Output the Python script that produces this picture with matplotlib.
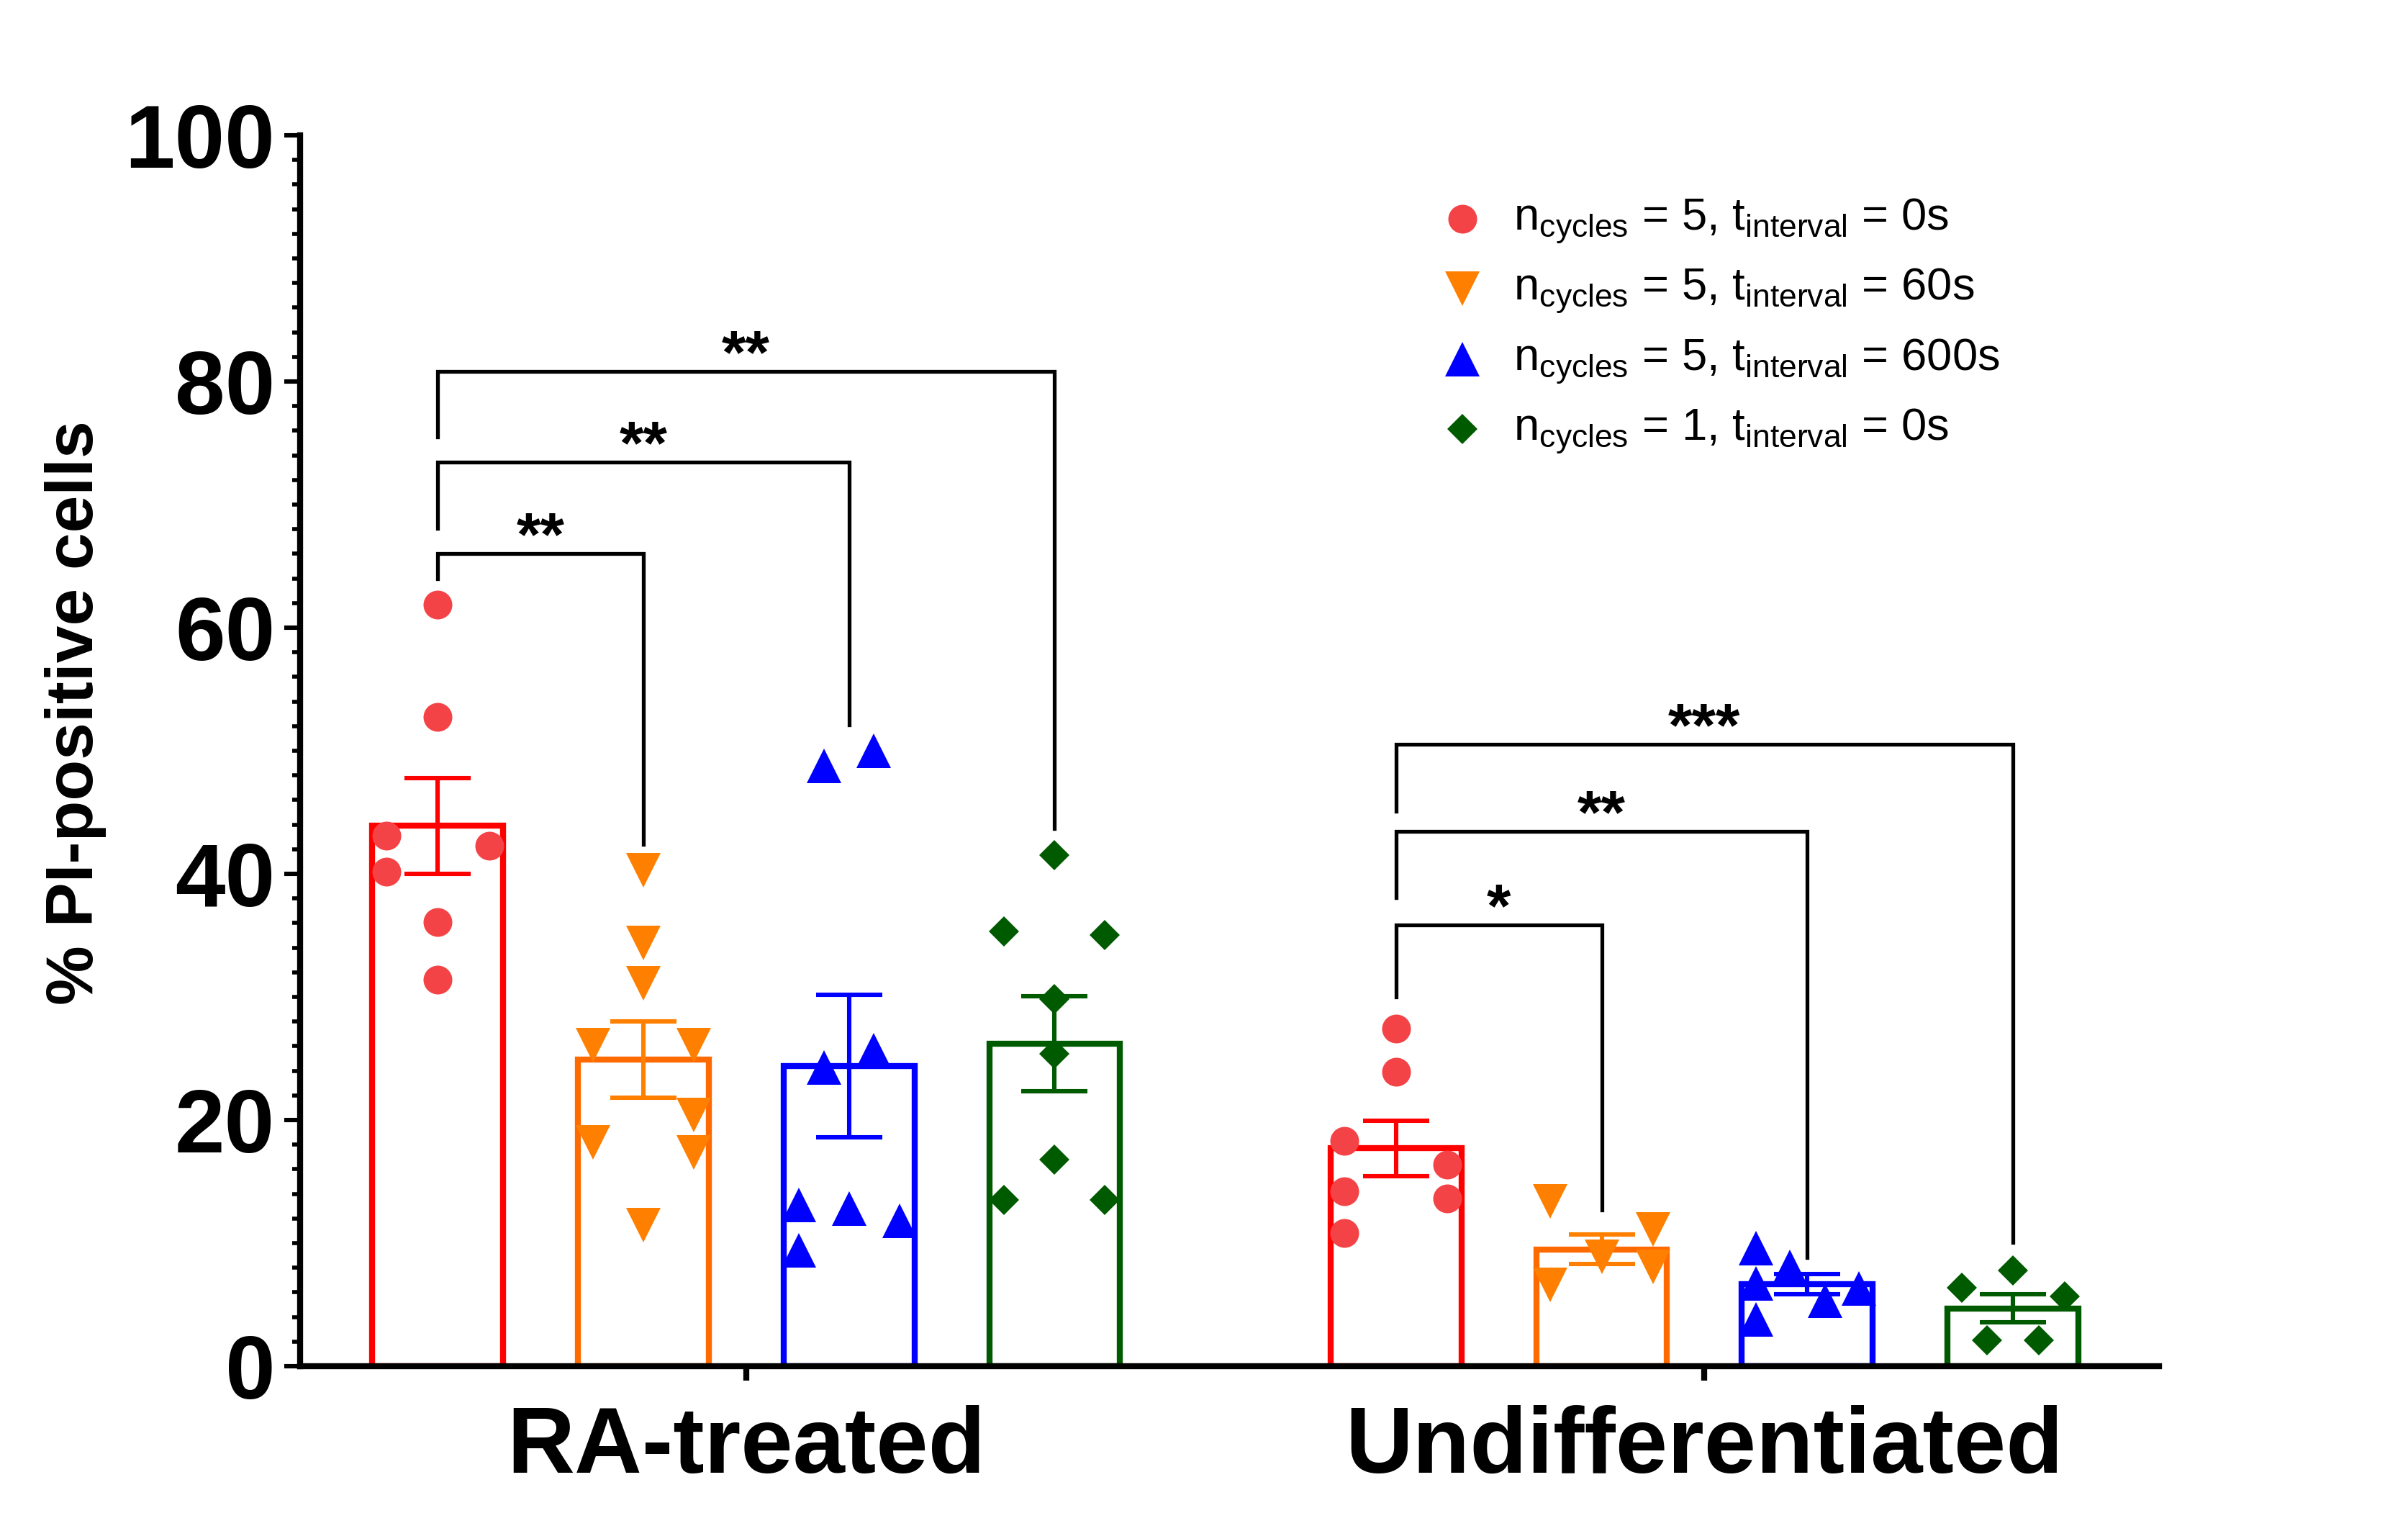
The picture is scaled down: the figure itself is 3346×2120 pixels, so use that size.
import numpy as np
import matplotlib
matplotlib.use('Agg')
import matplotlib.pyplot as plt
from matplotlib.ticker import MultipleLocator

plt.rcParams['font.family'] = ['Liberation Sans', 'DejaVu Sans']
plt.rcParams['mathtext.fontset'] = 'custom'
plt.rcParams['mathtext.rm'] = 'Liberation Sans'

groups = ['RA-treated', 'Undifferentiated']
legend_labels = [r'n$_{\mathregular{cycles}}$ = 5, t$_{\mathregular{interval}}$ = 0s',
                 r'n$_{\mathregular{cycles}}$ = 5, t$_{\mathregular{interval}}$ = 60s',
                 r'n$_{\mathregular{cycles}}$ = 5, t$_{\mathregular{interval}}$ = 600s',
                 r'n$_{\mathregular{cycles}}$ = 1, t$_{\mathregular{interval}}$ = 0s']

# bar heights (mean) and SEM
ra_means = [43.9, 24.9, 24.4, 26.2]
ra_sems = [3.9, 3.1, 5.8, 3.85]
ud_means = [17.7, 9.5, 6.65, 4.7]
ud_sems = [2.25, 1.2, 0.82, 1.14]

# individual replicates
ra_points = [
    [61.9, 52.75, 43.1, 42.3, 40.2, 36.1, 31.4],
    [40.3, 34.4, 31.1, 26.1, 26.1, 20.4, 18.2, 17.35, 11.45],
    [48.8, 50.0, 24.3, 25.7, 13.1, 12.8, 11.8, 9.4],
    [41.5, 35.3, 35.05, 29.8, 25.4, 16.8, 13.5, 13.5],
]
ud_points = [
    [27.4, 23.9, 18.3, 16.4, 14.2, 13.6, 10.8],
    [13.4, 11.1, 8.9, 8.1, 6.6],
    [9.6, 8.1, 6.7, 5.3, 6.3, 3.8],
    [7.8, 6.4, 5.7, 2.1, 2.1],
]

# significance brackets: (target bar, bracket height, left leg end, right leg end, stars)
ra_sig = [(1, 66.0, 64.0, 42.4, '**'), (2, 73.45, 68.1, 52.1, '**'), (3, 80.8, 75.5, 43.7, '**')]
ud_sig = [(1, 35.85, 30.0, 12.7, '*'), (2, 43.45, 38.1, 8.85, '**'), (3, 50.5, 45.1, 10.06, '***')]

# horizontal scatter offsets of the points (layout only)
ra_jit = [
    [0, 0, -0.25, 0.25, -0.25, 0, 0],
    [0, 0, 0, -0.245, 0.245, 0.245, -0.245, 0.245, 0],
    [-0.12, 0.12, -0.12, 0.12, -0.245, 0, 0.245, -0.245],
    [0, -0.245, 0.245, 0, 0, 0, -0.245, 0.245],
]
ud_jit = [
    [0, 0, -0.25, 0.25, -0.25, 0.25, -0.25],
    [-0.25, 0.25, 0, 0.25, -0.25],
    [-0.25, -0.085, -0.25, 0.085, 0.25, -0.25],
    [0, -0.25, 0.25, -0.125, 0.125],
]

bar_colors = ['#FF0000', '#FF6A00', '#0000FF', '#005A00']
pt_colors = ['#F44346', '#FF8000', '#0000FF', '#005A00']
err_colors = ['#FF0000', '#FF8000', '#0000FF', '#005A00']
markers = ['o', 'v', '^', 'D']
msizes = [14.4, 17, 17, 10.9]

fig = plt.figure(figsize=(16.73, 10.6), dpi=200)
ax = fig.add_axes([0.1246, 0.1047, 0.8966 - 0.1246, 0.9113 - 0.1047])

pos = [np.arange(4), np.arange(4) + 4.66]
means = [ra_means, ud_means]
sems = [ra_sems, ud_sems]
points = [ra_points, ud_points]
jits = [ra_jit, ud_jit]
sigs = [ra_sig, ud_sig]

for g in range(2):
    for i in range(4):
        x = pos[g][i]
        ax.bar(x, means[g][i], width=0.636, facecolor='none', edgecolor=bar_colors[i],
               linewidth=3, joinstyle='miter', zorder=2)
        ax.plot(x + np.array(jits[g][i]), points[g][i], ls='none', marker=markers[i],
                ms=msizes[i], color=pt_colors[i], mew=0, zorder=3)
        ax.errorbar(x, means[g][i], yerr=sems[g][i], color=err_colors[i], capsize=16.7,
                    elinewidth=2.2, capthick=2.2, zorder=4)
    for j, y, left, right, stars in sigs[g]:
        x0, x1 = pos[g][0], pos[g][j]
        ax.plot([x0, x0, x1, x1], [left, y, y, right], color='black', lw=1.9,
                solid_joinstyle='miter', zorder=5)
        ax.text((x0 + x1) / 2, y - 0.1, stars, ha='center', va='baseline',
                fontsize=31, fontweight='bold')

ax.set_xlim(-0.669, 8.37)
ax.set_ylim(0, 100)
ax.spines['top'].set_visible(False)
ax.spines['right'].set_visible(False)
ax.spines['left'].set_linewidth(3)
ax.spines['bottom'].set_linewidth(3)

ax.yaxis.set_major_locator(MultipleLocator(20))
ax.yaxis.set_minor_locator(MultipleLocator(2))
ax.tick_params(axis='y', which='major', length=7.8, width=2.2, pad=4.7, labelsize=45)
ax.tick_params(axis='y', which='minor', length=3.8, width=2)
for lab in ax.get_yticklabels():
    lab.set_fontweight('bold')

ax.set_xticks([pos[0].mean(), pos[1].mean()])
ax.set_xticklabels(groups, fontsize=46.8, fontweight='bold')
ax.tick_params(axis='x', length=7.2, width=3, pad=12)

fig.text(105 / 3346, 1 - 990 / 2120, '% PI-positive cells', rotation=90, ha='center',
         va='center', fontsize=33.5, fontweight='bold')

# legend
for k in range(4):
    yk = 1 - (304 + 97.3 * k) / 2120
    ax.plot([2032 / 3346], [yk], transform=fig.transFigure, clip_on=False, ls='none',
            marker=markers[k], ms=msizes[k], color=pt_colors[k], mew=0)
    fig.text(2103 / 3346, yk - 16 / 2120, legend_labels[k], fontsize=22.8, va='baseline')

fig.savefig('out.png', dpi=200)
